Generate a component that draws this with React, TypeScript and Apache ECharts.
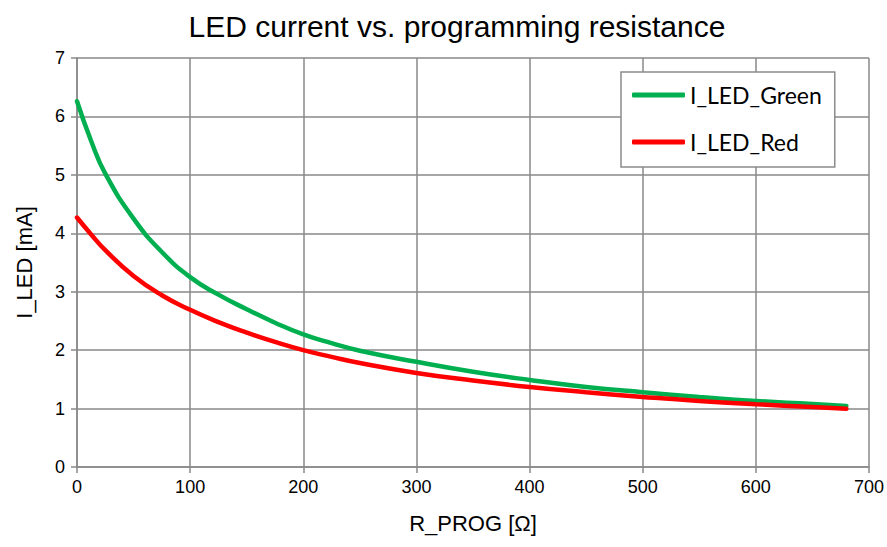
import React, { useEffect, useRef } from "react";
import * as echarts from "echarts";

const titleText = "LED current vs. programming resistance";
const xAxisName = "R_PROG [Ω]";
const yAxisName = "I_LED [mA]";

const resistance = [0, 12.5, 25, 50, 75, 100, 125, 150, 175, 200, 225, 250, 300, 350, 400, 450, 500, 550, 600, 650, 680];
const greenCurrent = [6.26, 5.58, 5.02, 4.25, 3.68, 3.25, 2.95, 2.7, 2.47, 2.27, 2.12, 1.99, 1.8, 1.63, 1.49, 1.37, 1.28, 1.2, 1.13, 1.08, 1.045];
const redCurrent = [4.27, 3.98, 3.71, 3.27, 2.94, 2.69, 2.48, 2.3, 2.14, 2.0, 1.885, 1.78, 1.61, 1.48, 1.37, 1.28, 1.2, 1.13, 1.075, 1.025, 0.995];

const seriesNames = ["I_LED_Green", "I_LED_Red"];
const seriesColors = ["#00B050", "#FF0000"];

export default function App() {
  const ref = useRef<HTMLDivElement>(null);
  useEffect(() => {
    if (!ref.current) return;
    const chart = echarts.init(ref.current, null, { renderer: "svg" });
    const font = "Liberation Sans, Arial, sans-serif";
    const gridColor = "#898989";
    const pairs = (ys: number[]) => resistance.map((x, i) => [x, ys[i]]);
    chart.setOption({
      animation: false,
      backgroundColor: "#ffffff",
      title: {
        text: titleText,
        left: 452,
        top: 6,
        textAlign: "center",
        textStyle: { fontFamily: font, fontSize: 30, fontWeight: "normal", color: "#000" },
      },
      legend: {
        left: 621,
        top: 72,
        orient: "vertical",
        icon: "roundRect",
        itemWidth: 53,
        itemHeight: 5,
        itemGap: 23,
        padding: [11, 13, 13, 11],
        borderColor: "#8c8c8c",
        borderWidth: 1.5,
        backgroundColor: "#fff",
        textStyle: { fontFamily: "Lato, Carlito, sans-serif", fontSize: 23, color: "#000", lineHeight: 24 },
        data: seriesNames,
      },
      grid: { left: 77, right: 17, top: 58, bottom: 80, containLabel: false },
      xAxis: {
        type: "value",
        min: 0,
        max: 700,
        interval: 100,
        name: xAxisName,
        nameLocation: "middle",
        nameGap: 45,
        nameTextStyle: { fontFamily: font, fontSize: 22, color: "#000" },
        axisLine: { show: true, lineStyle: { color: gridColor, width: 1.5 } },
        axisTick: { show: true, length: 6, lineStyle: { color: gridColor, width: 1.5 } },
        axisLabel: { fontFamily: font, fontSize: 18, color: "#000", margin: 11 },
        splitLine: { show: true, lineStyle: { color: gridColor, width: 1.5 } },
      },
      yAxis: {
        type: "value",
        min: 0,
        max: 7,
        interval: 1,
        name: yAxisName,
        nameLocation: "middle",
        nameGap: 42,
        nameTextStyle: { fontFamily: font, fontSize: 22, color: "#000" },
        axisLine: { show: true, lineStyle: { color: gridColor, width: 1.5 } },
        axisTick: { show: true, length: 6, lineStyle: { color: gridColor, width: 1.5 } },
        axisLabel: { fontFamily: font, fontSize: 18, color: "#000", margin: 12 },
        splitLine: { show: true, lineStyle: { color: gridColor, width: 1.5 } },
      },
      series: [
        {
          name: seriesNames[0],
          type: "line",
          data: pairs(greenCurrent),
          smooth: 0.5,
          showSymbol: false,
          symbol: "none",
          color: seriesColors[0],
          itemStyle: { color: seriesColors[0] },
          lineStyle: { color: seriesColors[0], width: 4.5, cap: "round" },
          z: 3,
        },
        {
          name: seriesNames[1],
          type: "line",
          data: pairs(redCurrent),
          smooth: 0.5,
          showSymbol: false,
          symbol: "none",
          color: seriesColors[1],
          itemStyle: { color: seriesColors[1] },
          lineStyle: { color: seriesColors[1], width: 4.5, cap: "round" },
          z: 4,
        },
      ],
    });
    return () => chart.dispose();
  }, []);
  return (
    <div
      ref={ref}
      style={{ position: "fixed", left: 0, top: 0, width: 887, height: 547, background: "#fff" }}
    />
  );
}
